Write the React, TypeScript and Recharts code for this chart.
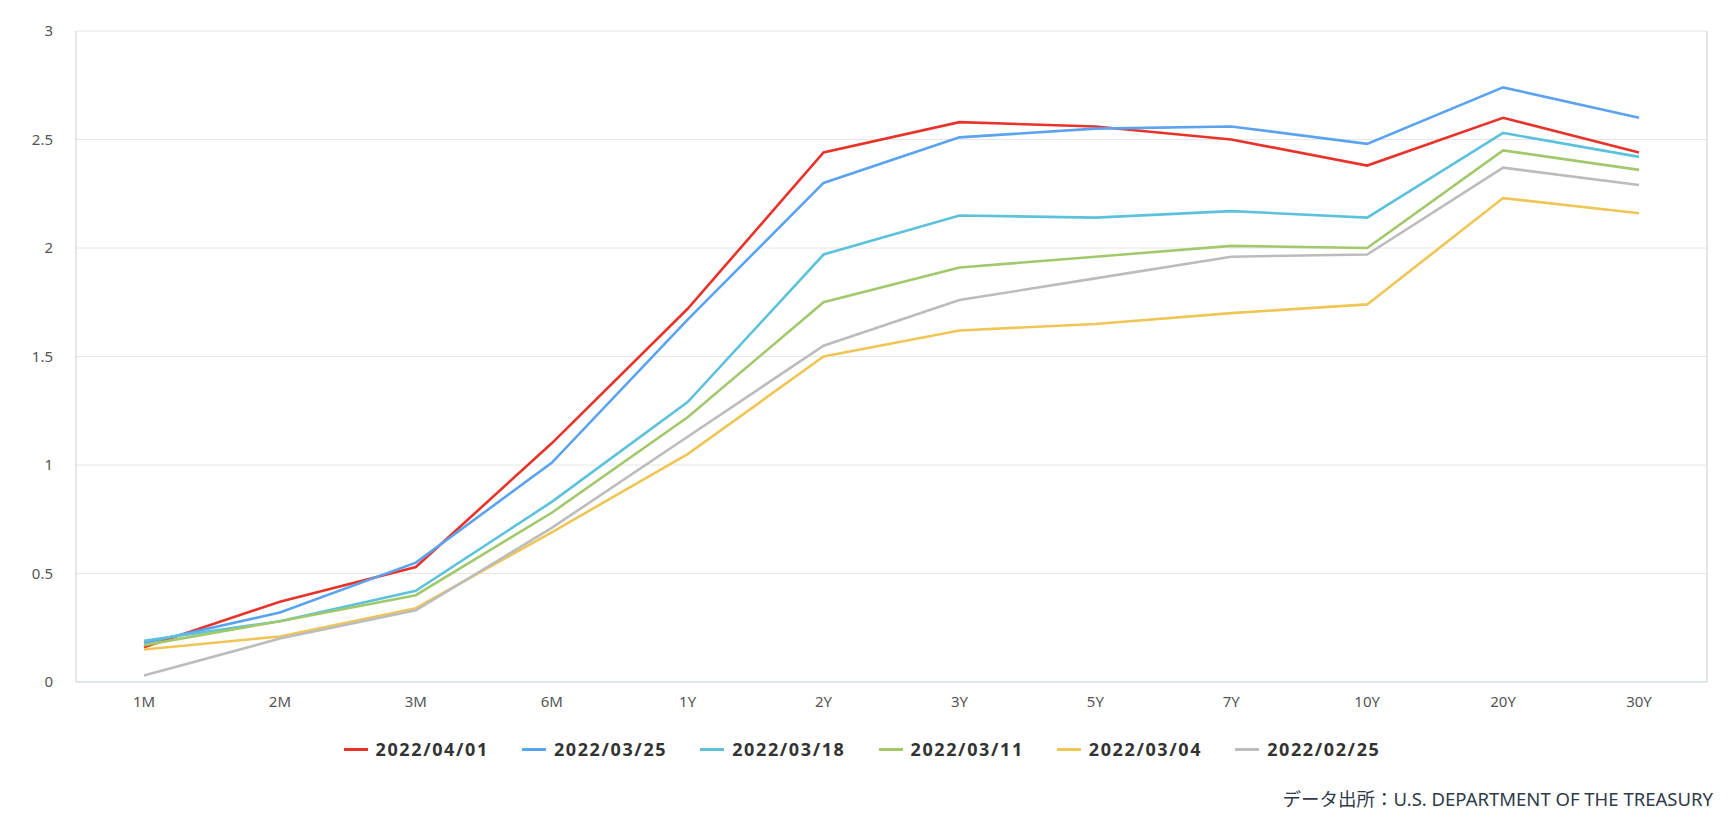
import { LineChart, Line, XAxis, YAxis, CartesianGrid, Legend } from 'recharts';

const maturities = ['1M', '2M', '3M', '6M', '1Y', '2Y', '3Y', '5Y', '7Y', '10Y', '20Y', '30Y'];
const yTicks = [0, 0.5, 1, 1.5, 2, 2.5, 3];

const apr01 = [0.16, 0.37, 0.53, 1.1, 1.72, 2.44, 2.58, 2.56, 2.5, 2.38, 2.6, 2.44];
const mar25 = [0.18, 0.32, 0.55, 1.01, 1.67, 2.3, 2.51, 2.55, 2.56, 2.48, 2.74, 2.6];
const mar18 = [0.19, 0.28, 0.42, 0.83, 1.29, 1.97, 2.15, 2.14, 2.17, 2.14, 2.53, 2.42];
const mar11 = [0.17, 0.28, 0.4, 0.78, 1.22, 1.75, 1.91, 1.96, 2.01, 2.0, 2.45, 2.36];
const mar04 = [0.15, 0.21, 0.34, 0.69, 1.05, 1.5, 1.62, 1.65, 1.7, 1.74, 2.23, 2.16];
const feb25 = [0.03, 0.2, 0.33, 0.71, 1.13, 1.55, 1.76, 1.86, 1.96, 1.97, 2.37, 2.29];

const series = [
  { key: '2022/04/01', values: apr01, color: '#e8332a' },
  { key: '2022/03/25', values: mar25, color: '#5ba3ef' },
  { key: '2022/03/18', values: mar18, color: '#5cc2dc' },
  { key: '2022/03/11', values: mar11, color: '#a1c96b' },
  { key: '2022/03/04', values: mar04, color: '#efc655' },
  { key: '2022/02/25', values: feb25, color: '#bcbcbc' },
];

const data = maturities.map((m, i) => {
  const row: Record<string, any> = { name: m };
  series.forEach((s) => (row[s.key] = s.values[i]));
  return row;
});

const FONT = '"Noto Sans", "Noto Sans CJK JP", sans-serif';

const LegendContent = () => (
  <div style={{ display: 'flex', justifyContent: 'center', gap: 33, fontFamily: FONT }}>
    {series.map((s) => (
      <div key={s.key} style={{ display: 'flex', alignItems: 'center' }}>
        <div style={{ width: 24, height: 3, background: s.color, marginRight: 8 }} />
        <span style={{ fontSize: 18, fontWeight: 700, color: '#333', letterSpacing: 1.6 }}>{s.key}</span>
      </div>
    ))}
  </div>
);

export default function App() {
  return (
    <div style={{ position: 'absolute', left: 0, top: 0, width: 1734, height: 830, background: '#fff' }}>
      <LineChart width={1734} height={830} data={data} margin={{ top: 31, right: 26, left: 16, bottom: 33 }}>
        <CartesianGrid vertical={false} stroke="#e6e6e6" />
        <XAxis
          dataKey="name"
          padding={{ left: 68, right: 68 }}
          height={40}
          tickLine={false}
          axisLine={{ stroke: '#ccd6eb' }}
          tickMargin={8}
          tick={{ fill: '#555', fontSize: 15, fontFamily: FONT }}
        />
        <XAxis xAxisId="t" dataKey="name" orientation="top" height={0} tick={false} tickLine={false} axisLine={{ stroke: '#cccccc' }} />
        <YAxis
          domain={[0, 3]}
          ticks={yTicks}
          width={60}
          tickLine={false}
          axisLine={{ stroke: '#cccccc' }}
          tickMargin={17}
          tick={{ fill: '#555', fontSize: 15, fontFamily: FONT }}
        />
        <YAxis yAxisId="r" orientation="right" domain={[0, 3]} width={1} tick={false} tickLine={false} axisLine={{ stroke: '#cccccc' }} />
        <Legend verticalAlign="bottom" height={60} wrapperStyle={{ paddingTop: 15 }} content={<LegendContent />} />
        {series.map((s) => (
          <Line
            key={s.key}
            dataKey={s.key}
            stroke={s.color}
            strokeWidth={2.6}
            dot={false}
            activeDot={false}
            isAnimationActive={false}
          />
        ))}
      </LineChart>
      <div
        style={{
          position: 'absolute',
          right: 21,
          top: 785,
          fontFamily: FONT,
          fontSize: 18.5,
          color: '#2f3a4a',
        }}
      >
        データ出所：U.S. DEPARTMENT OF THE TREASURY
      </div>
    </div>
  );
}
